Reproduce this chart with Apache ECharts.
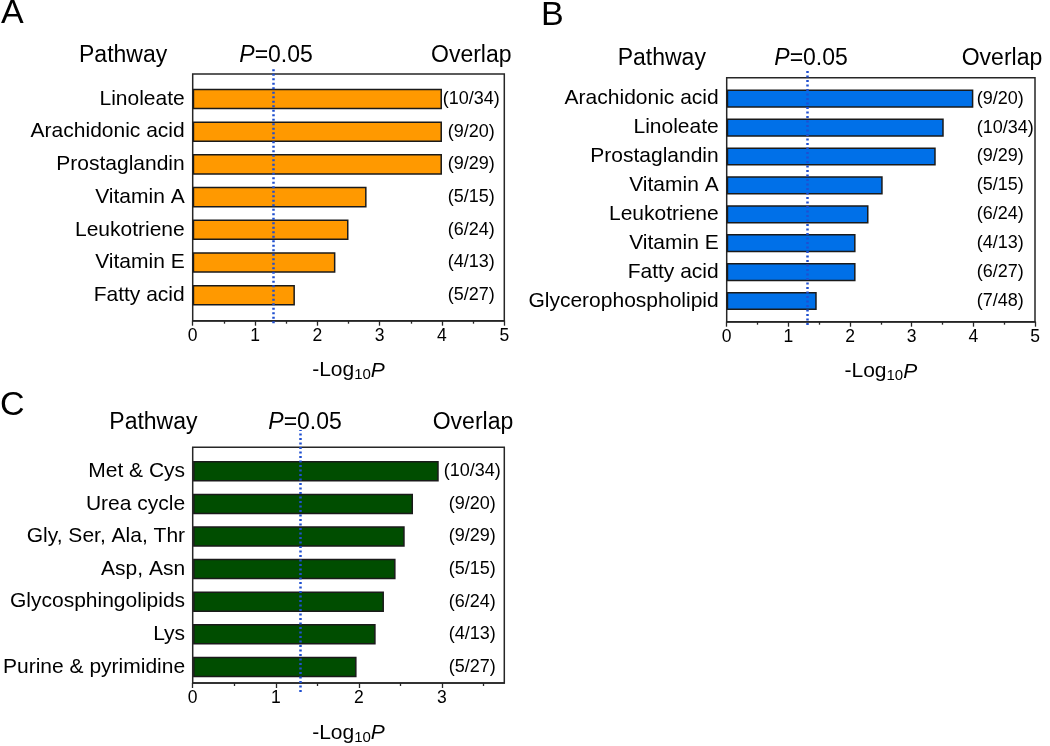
<!DOCTYPE html>
<html><head><meta charset="utf-8">
<script src="https://cdn.jsdelivr.net/npm/echarts@6/dist/echarts.min.js"></script>
<style>html,body{margin:0;padding:0;background:#fff}#c{width:1050px;height:746px}</style>
</head><body><div id="c"></div>
<script>
// ---- data ----
const pathwaysA = ['Linoleate','Arachidonic acid','Prostaglandin','Vitamin A','Leukotriene','Vitamin E','Fatty acid'];
const logPA = [4.0, 4.0, 4.0, 2.79, 2.50, 2.29, 1.64];
const overlapA = ['(10/34)','(9/20)','(9/29)','(5/15)','(6/24)','(4/13)','(5/27)'];

const pathwaysB = ['Arachidonic acid','Linoleate','Prostaglandin','Vitamin A','Leukotriene','Vitamin E','Fatty acid','Glycerophospholipid'];
const logPB = [4.0, 3.52, 3.39, 2.53, 2.30, 2.09, 2.09, 1.46];
const overlapB = ['(9/20)','(10/34)','(9/29)','(5/15)','(6/24)','(4/13)','(6/27)','(7/48)'];

const pathwaysC = ['Met & Cys','Urea cycle','Gly, Ser, Ala, Thr','Asp, Asn','Glycosphingolipids','Lys','Purine & pyrimidine'];
const logPC = [2.96, 2.65, 2.55, 2.44, 2.30, 2.20, 1.97];
const overlapC = ['(10/34)','(9/20)','(9/29)','(5/15)','(6/24)','(4/13)','(5/27)'];

const ticksAB = [0, 1, 2, 3, 4, 5];
const ticksC = [0, 1, 2, 3];
const maxAB = 5;
const maxC = 3.75;
const pThreshold = 0.05;

// ---- build ----
const FONT = "'Liberation Sans', Arial, sans-serif";
const thr = -Math.log10(pThreshold);
const grid = [], xAxis = [], yAxis = [], series = [], graphic = [];

function panel(p) {
  const gi = grid.length;
  const minor = p.ticks.map(t => t + 0.5).filter(t => t <= p.max);
  grid.push({left: p.frame.l, top: p.frame.t, width: p.frame.w, height: p.frame.h,
    show: true, borderColor: '#262626', borderWidth: 1.5, backgroundColor: 'transparent'});
  grid.push({left: p.frame.l, top: p.bars.t, width: p.frame.w, height: p.bars.h});
  grid.push({left: p.frame.l, top: p.line.t, width: p.frame.w, height: p.line.h});

  const xi = xAxis.length;
  xAxis.push({gridIndex: gi, type: 'value', min: 0, max: p.max, position: 'bottom',
    axisLine: {show: true, lineStyle: {color: '#262626', width: 1.5}},
    axisTick: {show: true, length: 5, customValues: p.ticks, lineStyle: {color: '#262626', width: 1.3}},
    axisLabel: {customValues: p.ticks, fontSize: 17.5, color: '#000', fontFamily: FONT, margin: 6},
    splitLine: {show: false},
    name: '{n|-Log}{s|10}{i|P}', nameLocation: 'middle', nameGap: 38,
    nameTextStyle: {rich: {
      n: {fontSize: 21, fontFamily: FONT, color: '#000'},
      s: {fontSize: 15, fontFamily: FONT, color: '#000', verticalAlign: 'bottom', padding: [9, 0, 0, 0]},
      i: {fontSize: 21, fontFamily: FONT, color: '#000', fontStyle: 'italic'}
    }}});
  xAxis.push({gridIndex: gi, type: 'value', min: 0, max: p.max, position: 'bottom',
    axisLine: {show: false},
    axisTick: {show: true, length: 3, customValues: minor, lineStyle: {color: '#262626', width: 1.3}},
    axisLabel: {show: false}, splitLine: {show: false}});
  xAxis.push({gridIndex: gi + 1, type: 'value', min: 0, max: p.max, show: false, splitLine: {show: false}});
  xAxis.push({gridIndex: gi + 2, type: 'value', min: 0, max: p.max, show: false, splitLine: {show: false}});

  const yi = yAxis.length;
  yAxis.push({gridIndex: gi, type: 'value', show: false, splitLine: {show: false}});
  yAxis.push({gridIndex: gi + 1, type: 'category', inverse: true, data: p.cats,
    axisLine: {show: false}, axisTick: {show: false}, splitLine: {show: false},
    axisLabel: {fontSize: 21, color: '#000', fontFamily: FONT, margin: 8}});
  yAxis.push({gridIndex: gi + 1, type: 'category', inverse: true, position: 'right', data: p.overlap,
    axisLine: {show: false}, axisTick: {show: false}, splitLine: {show: false},
    axisLabel: {inside: true, align: p.oAlign, margin: p.oMargin, fontSize: 18, color: '#000', fontFamily: FONT}});
  yAxis.push({gridIndex: gi + 2, type: 'value', show: false, min: 0, max: 1, splitLine: {show: false}});

  series.push({type: 'bar', xAxisIndex: xi + 2, yAxisIndex: yi + 1, data: p.vals, barWidth: '63%',
    itemStyle: {color: p.color, borderColor: '#1a1a1a', borderWidth: 1.5}, silent: true});
  series.push({type: 'line', xAxisIndex: xi + 3, yAxisIndex: yi + 3, data: [], silent: true,
    markLine: {silent: true, symbol: 'none', label: {show: false}, animation: false,
      lineStyle: {type: [2, 2.5], color: '#1f4fd0', width: 2.5}, data: [{xAxis: thr}]}});

  const hf = '23px ' + FONT;
  graphic.push({type: 'text', x: p.letter.x, y: p.letter.y,
    style: {text: p.letter.t, font: '34px ' + FONT, fill: '#000', verticalAlign: 'middle', align: 'left'}});
  graphic.push({type: 'text', x: p.head.pw, y: p.head.y,
    style: {text: 'Pathway', font: hf, fill: '#000', verticalAlign: 'middle', align: 'left'}});
  graphic.push({type: 'text', x: p.head.p, y: p.head.y,
    style: {text: '{i|P}{n|=0.05}', fill: '#000', verticalAlign: 'middle', align: 'left',
      rich: {i: {fontStyle: 'italic', fontSize: 23, fontFamily: FONT, fill: '#000'},
             n: {fontSize: 23, fontFamily: FONT, fill: '#000'}}}});
  graphic.push({type: 'text', x: p.head.ov, y: p.head.y,
    style: {text: 'Overlap', font: hf, fill: '#000', verticalAlign: 'middle', align: 'left'}});
}

panel({cats: pathwaysA, vals: logPA, overlap: overlapA, color: '#FF9900', max: maxAB, ticks: ticksAB,
  frame: {l: 192.7, t: 74, w: 311.6, h: 246.7}, bars: {t: 82.65, h: 228.9}, line: {t: 66.7, h: 256.6},
  oAlign: 'center', oMargin: 33,
  letter: {t: 'A', x: 1, y: 14}, head: {y: 56, pw: 79, p: 239.3, ov: 431}});
panel({cats: pathwaysB, vals: logPB, overlap: overlapB, color: '#0070E8', max: maxAB, ticks: ticksAB,
  frame: {l: 726.7, t: 77.7, w: 308.3, h: 244}, bars: {t: 84.25, h: 231.2}, line: {t: 69, h: 256},
  oAlign: 'left', oMargin: 58.3,
  letter: {t: 'B', x: 541, y: 16}, head: {y: 59, pw: 617.7, p: 774.3, ov: 961.7}});
panel({cats: pathwaysC, vals: logPC, overlap: overlapC, color: '#004D00', max: maxC, ticks: ticksC,
  frame: {l: 192.7, t: 447.3, w: 311.6, h: 244.4}, bars: {t: 455, h: 228.2}, line: {t: 430, h: 262},
  oAlign: 'center', oMargin: 32,
  letter: {t: 'C', x: 0, y: 406}, head: {y: 423, pw: 109.3, p: 268.3, ov: 432.7}});

const chart = echarts.init(document.getElementById('c'));
chart.setOption({animation: false, backgroundColor: '#fff', grid, xAxis, yAxis, series, graphic});
</script></body></html>
